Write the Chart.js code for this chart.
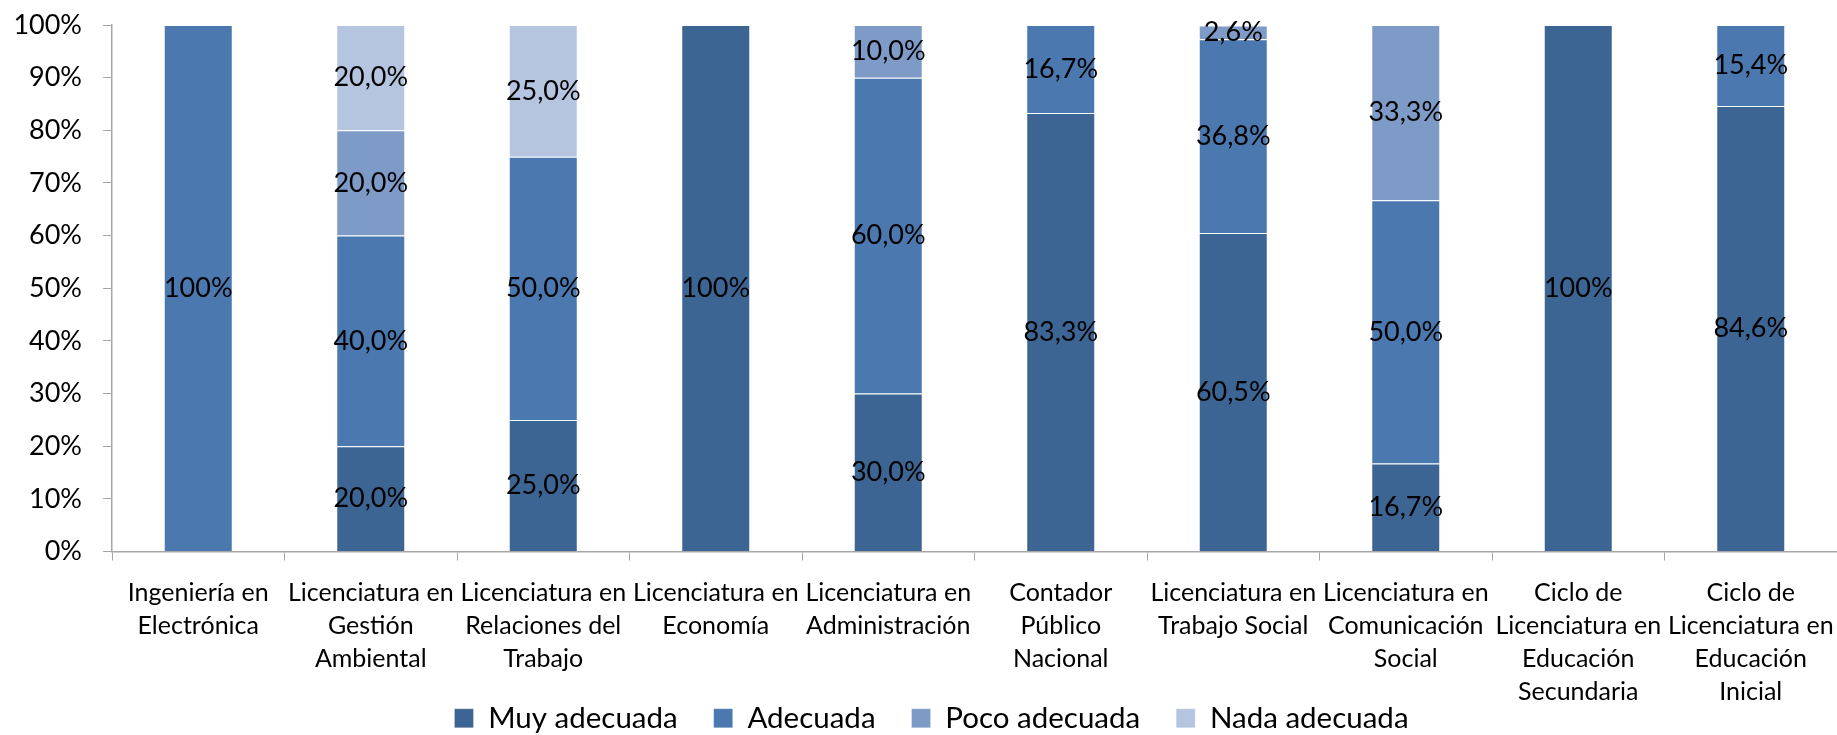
<!DOCTYPE html>
<html>
<head>
<meta charset="utf-8">
<script src="https://cdn.jsdelivr.net/npm/chart.js@4/dist/chart.umd.min.js"></script>
<style>
  html, body { margin: 0; padding: 0; background: #fff; }
  #wrap { width: 1837px; height: 735px; }
</style>
</head>
<body>
<div id="wrap"><canvas id="grafico" width="1837" height="735"></canvas></div>
<script>
// Carreras (etiquetas del eje X, en varias líneas)
const carreras = [
  ['Ingeniería en', 'Electrónica'],
  ['Licenciatura en', 'Gestión', 'Ambiental'],
  ['Licenciatura en', 'Relaciones del', 'Trabajo'],
  ['Licenciatura en', 'Economía'],
  ['Licenciatura en', 'Administración'],
  ['Contador', 'Público', 'Nacional'],
  ['Licenciatura en', 'Trabajo Social'],
  ['Licenciatura en', 'Comunicación', 'Social'],
  ['Ciclo de', 'Licenciatura en', 'Educación', 'Secundaria'],
  ['Ciclo de', 'Licenciatura en', 'Educación', 'Inicial']
];

// Porcentajes por valoración
const muyAdecuada  = [0, 20, 25, 100, 30, 83.3, 60.5, 16.7, 100, 84.6];
const adecuada     = [100, 40, 50, 0, 60, 16.7, 36.8, 50, 0, 15.4];
const pocoAdecuada = [0, 20, 0, 0, 10, 0, 2.6, 33.3, 0, 0];
const nadaAdecuada = [0, 20, 25, 0, 0, 0, 0, 0, 0, 0];

// Marcas del eje Y
const marcasY = [0, 10, 20, 30, 40, 50, 60, 70, 80, 90, 100];

const FUENTE = 'Lato, "DejaVu Sans", sans-serif';

const formatoPct = (v) => v === 100 ? '100%' : v.toFixed(1).replace('.', ',') + '%';

// Etiquetas de datos centradas en cada segmento
const etiquetasDatos = {
  id: 'etiquetasDatos',
  afterDatasetsDraw(chart) {
    const ctx = chart.ctx;
    ctx.save();
    ctx.font = '27px ' + FUENTE;
    ctx.fillStyle = '#000';
    ctx.textAlign = 'center';
    ctx.textBaseline = 'middle';
    chart.data.datasets.forEach((ds, i) => {
      const meta = chart.getDatasetMeta(i);
      if (meta.hidden) return;
      meta.data.forEach((bar, j) => {
        const v = ds.data[j];
        if (!v) return;
        ctx.fillText(formatoPct(v), bar.x, (bar.y + bar.base) / 2);
      });
    });
    ctx.restore();
  }
};

// Ajustes tras el layout: que las etiquetas del eje X no se recorten y
// la leyenda quede donde está en el original
const ajusteLayout = {
  id: 'ajusteLayout',
  afterLayout(chart) {
    chart.scales.x.bottom = chart.height;
    const lg = chart.legend;
    lg.left += 13; lg.right += 13;
    lg.top += 1; lg.bottom += 1;
  }
};

const serie = (label, data, color) => ({
  label,
  data,
  backgroundColor: color,
  borderColor: 'rgba(255,255,255,0.25)',
  borderWidth: 1,
  borderSkipped: 'start',
  categoryPercentage: 1,
  barPercentage: 0.4
});

new Chart(document.getElementById('grafico'), {
  type: 'bar',
  data: {
    labels: carreras,
    datasets: [
      serie('Muy adecuada', muyAdecuada, '#3D6594'),
      serie('Adecuada', adecuada, '#4A78AF'),
      serie('Poco adecuada', pocoAdecuada, '#7E9BC8'),
      serie('Nada adecuada', nadaAdecuada, '#B5C4DF')
    ]
  },
  options: {
    responsive: false,
    animation: false,
    devicePixelRatio: 1,
    layout: { padding: { top: 25, right: 0, bottom: -7, left: 0 } },
    plugins: {
      tooltip: { enabled: false },
      legend: {
        position: 'bottom',
        labels: {
          boxWidth: 19,
          boxHeight: 19,
          padding: 36,
          color: '#000',
          font: { family: FUENTE, size: 29.5 }
        }
      }
    },
    scales: {
      x: {
        stacked: true,
        offset: true,
        afterFit: (s) => { s.height = 115; s.paddingLeft = 0; s.paddingRight = 0; },
        grid: {
          offset: true,
          drawOnChartArea: false,
          drawTicks: true,
          tickLength: 9,
          color: '#A6A6A6'
        },
        border: { color: '#A6A6A6', width: 1.5 },
        ticks: {
          autoSkip: false,
          maxRotation: 0,
          minRotation: 0,
          padding: 16,
          color: '#000',
          font: { family: FUENTE, size: 25, lineHeight: 1.32 }
        }
      },
      y: {
        stacked: true,
        min: 0,
        max: 100,
        afterFit: (s) => { s.width = 112; s.paddingTop = 0; s.paddingBottom = 0; },
        afterBuildTicks: (s) => { s.ticks = marcasY.map(v => ({ value: v })); },
        grid: {
          drawOnChartArea: false,
          drawTicks: true,
          tickLength: 9,
          color: '#A6A6A6'
        },
        border: { color: '#A6A6A6', width: 1.5 },
        ticks: {
          padding: 21,
          color: '#000',
          font: { family: FUENTE, size: 27 },
          callback: (v) => v + '%'
        }
      }
    }
  },
  plugins: [etiquetasDatos, ajusteLayout]
});
</script>
</body>
</html>
